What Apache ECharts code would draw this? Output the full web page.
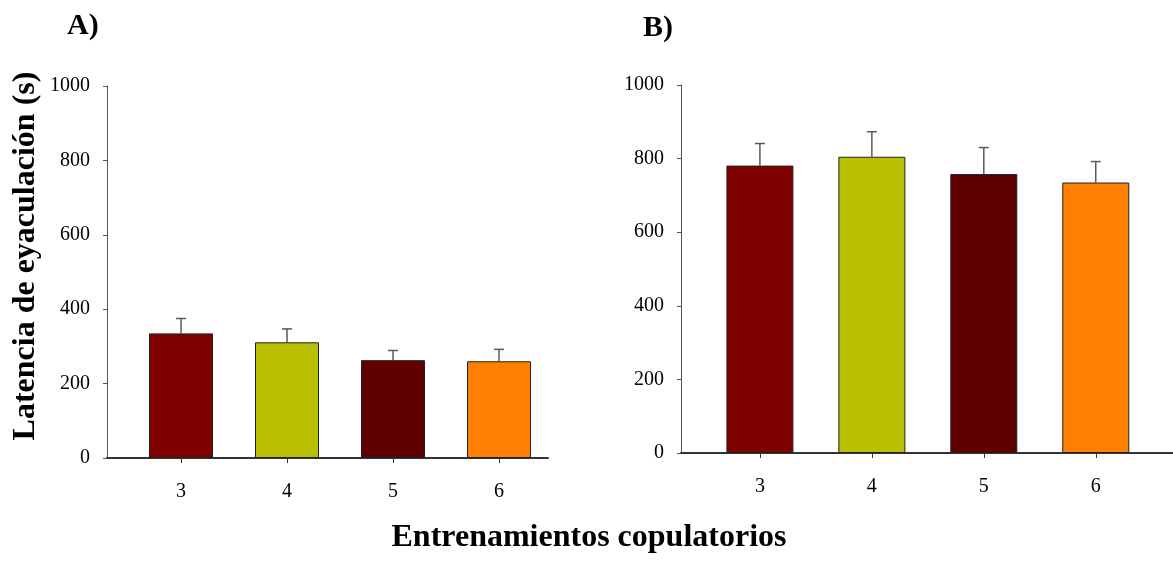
<!DOCTYPE html>
<html>
<head>
<meta charset="utf-8">
<script src="https://cdn.jsdelivr.net/npm/echarts@6/dist/echarts.min.js"></script>
<style>
  html, body { margin: 0; padding: 0; background: #fff; }
  #chart { width: 1173px; height: 561px; }
</style>
</head>
<body>
<div id="chart"></div>
<script>
// Copulatory training sessions
const sessions = [3, 4, 5, 6];
const tickValues = [3, 4, 5, 6];
// Panel A: ejaculation latency (s), mean and SEM
const latencyA = [335, 311, 263, 260];
const semA = [40, 36, 26, 32];
// Panel B: ejaculation latency (s), mean and SEM
const latencyB = [781, 805, 758, 735];
const semB = [60, 68, 72, 57];
const barColors = ['#800000', '#b8c000', '#600000', '#ff8000'];

const FONT = '"Liberation Serif", "Times New Roman", serif';

function barData(vals) {
  return vals.map((v, i) => ({
    value: [sessions[i], v],
    itemStyle: { color: barColors[i] }
  }));
}
function errData(vals, sems) {
  return vals.map((v, i) => [sessions[i], v, v + sems[i]]);
}

function errorSeries(xi, data) {
  return {
    type: 'custom',
    xAxisIndex: xi, yAxisIndex: xi,
    z: 1,
    data: data,
    renderItem: function (params, api) {
      const x = api.value(0);
      const lo = api.coord([x, api.value(1)]);
      const hi = api.coord([x, api.value(2)]);
      const half = 5;
      const st = { stroke: '#5a5a5a', lineWidth: 1.5 };
      return {
        type: 'group',
        children: [
          { type: 'line', shape: { x1: lo[0], y1: lo[1], x2: hi[0], y2: hi[1] }, style: st },
          { type: 'line', shape: { x1: hi[0] - half, y1: hi[1], x2: hi[0] + half, y2: hi[1] }, style: st }
        ]
      };
    }
  };
}

function xAxisCfg(gi, min, max) {
  return {
    type: 'value', gridIndex: gi, min: min, max: max,
    axisLine: { show: true, lineStyle: { color: '#333', width: 2 } },
    axisTick: { show: true, customValues: tickValues, length: 5, lineStyle: { color: '#333', width: 1 } },
    axisLabel: { customValues: tickValues, color: '#000', fontFamily: FONT, fontSize: 20, margin: 24 },
    splitLine: { show: false }
  };
}
function yAxisCfg(gi) {
  return {
    type: 'value', gridIndex: gi, min: 0, max: 1000, interval: 200,
    axisLine: { show: true, lineStyle: { color: '#555', width: 1 } },
    axisTick: { show: true, length: 4, lineStyle: { color: '#555', width: 1 } },
    axisLabel: { color: '#000', fontFamily: FONT, fontSize: 20, margin: 17, formatter: v => String(v) },
    splitLine: { show: false }
  };
}

const option = {
  backgroundColor: '#fff',
  animation: false,
  grid: [
    { left: 107, right: 625, top: 86, bottom: 103 },
    { left: 681, right: 0, top: 85, bottom: 108 }
  ],
  xAxis: [xAxisCfg(0, 2.302, 6.462), xAxisCfg(1, 2.295, 6.69)],
  yAxis: [yAxisCfg(0), yAxisCfg(1)],
  series: [
    {
      type: 'bar', xAxisIndex: 0, yAxisIndex: 0, barWidth: 64, z: 2,
      itemStyle: { borderColor: '#222', borderWidth: 1 },
      data: barData(latencyA)
    },
    errorSeries(0, errData(latencyA, semA)),
    {
      type: 'bar', xAxisIndex: 1, yAxisIndex: 1, barWidth: 67, z: 2,
      itemStyle: { borderColor: '#222', borderWidth: 1 },
      data: barData(latencyB)
    },
    errorSeries(1, errData(latencyB, semB))
  ],
  graphic: [
    { type: 'text', x: 67, y: 26, style: { text: 'A)', font: 'bold 30px ' + FONT, fill: '#000', verticalAlign: 'middle' } },
    { type: 'text', x: 643, y: 28, style: { text: 'B)', font: 'bold 30px ' + FONT, fill: '#000', verticalAlign: 'middle' } },
    {
      type: 'text', x: 26, y: 256, rotation: Math.PI / 2,
      style: { text: 'Latencia de eyaculación (s)', font: 'bold 32px ' + FONT, fill: '#000', align: 'center', verticalAlign: 'middle' }
    },
    {
      type: 'text', x: 589, y: 538,
      style: { text: 'Entrenamientos copulatorios', font: 'bold 32px ' + FONT, fill: '#000', align: 'center', verticalAlign: 'middle' }
    }
  ]
};

echarts.init(document.getElementById('chart'), null, { renderer: 'canvas' }).setOption(option);
</script>
</body>
</html>
